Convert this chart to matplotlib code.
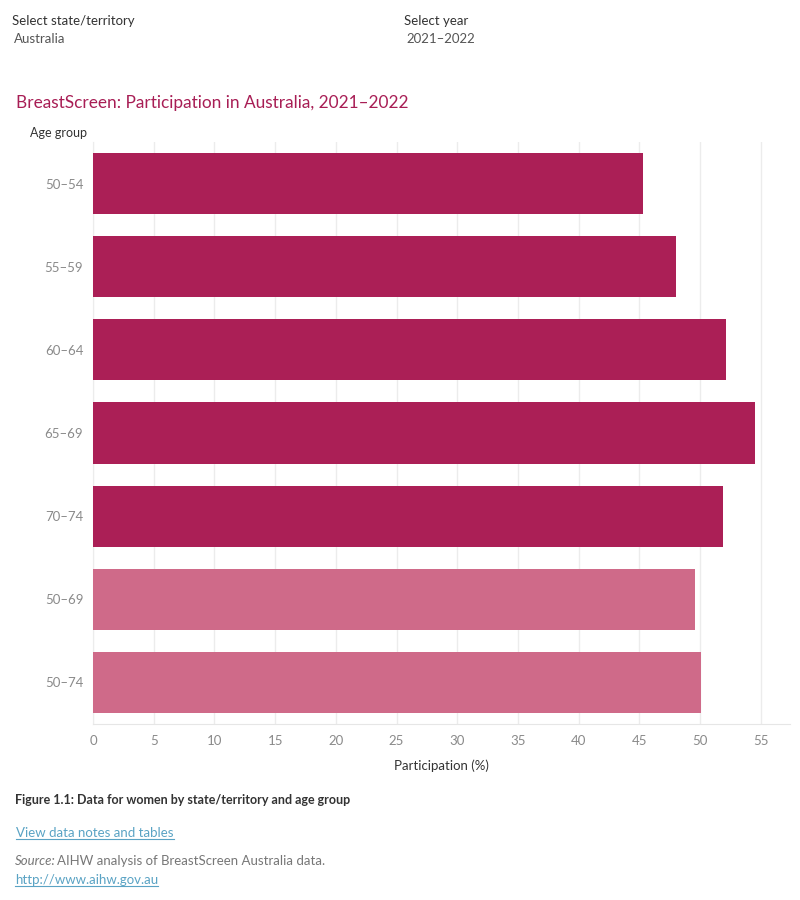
import matplotlib
matplotlib.use("Agg")
import matplotlib.pyplot as plt
from matplotlib.lines import Line2D

plt.rcParams['font.family'] = ['Lato', 'DejaVu Sans']

age_groups = ["50–54", "55–59", "60–64", "65–69", "70–74", "50–69", "50–74"]
participation = [45.3, 48.0, 52.1, 54.5, 51.9, 49.6, 50.05]
is_aggregate = [False, False, False, False, False, True, True]
x_ticks = [0, 5, 10, 15, 20, 25, 30, 35, 40, 45, 50, 55]

DARK = "#AB1F56"
LIGHT = "#CF6A89"

W, H = 800, 900
fig = plt.figure(figsize=(8, 9), dpi=100)
fig.patch.set_facecolor("white")

def fx(px):
    return px / W

def fy(py):
    return 1 - py / H

ax = fig.add_axes([fx(93), fy(724), fx(790) - fx(93), fy(142) - fy(724)])
colors = [LIGHT if a else DARK for a in is_aggregate]
ypos = list(range(len(age_groups)))
ax.barh(ypos, participation, height=0.735, color=colors, zorder=3)
ax.set_ylim(len(age_groups) - 0.5, -0.5)
ax.set_xlim(0, 57.4)
ax.set_xticks(x_ticks)
ax.set_xticklabels([str(t) for t in x_ticks])
ax.set_yticks(ypos)
ax.set_yticklabels(age_groups)
ax.tick_params(axis='both', length=0, labelsize=9.5, labelcolor="#8a8a8a")
ax.tick_params(axis='x', pad=8)
ax.tick_params(axis='y', pad=7)
ax.grid(axis='x', color="#ececec", linewidth=1, zorder=0)
for s in ["top", "right"]:
    ax.spines[s].set_visible(False)
ax.spines["left"].set_color("#ececec")
ax.spines["bottom"].set_color("#e6e6e6")
ax.set_xlabel("Participation (%)", fontsize=9.5, color="#333333", labelpad=9)

# Header texts
fig.text(fx(12), fy(21), "Select state/territory", fontsize=9.5, color="#333333", va="center", ha="left")
fig.text(fx(14), fy(39), "Australia", fontsize=9.5, color="#555555", va="center", ha="left")
fig.text(fx(404), fy(21), "Select year", fontsize=9.5, color="#333333", va="center", ha="left")
fig.text(fx(406), fy(39), "2021–2022", fontsize=9.5, color="#555555", va="center", ha="left")
fig.text(fx(16), fy(103), "BreastScreen: Participation in Australia, 2021–2022", fontsize=12.4,
         color="#A81E55", va="center", ha="left")
fig.text(fx(30), fy(133), "Age group", fontsize=9, color="#333333", va="center", ha="left")

# Footer texts
fig.text(fx(15), fy(800), "Figure 1.1: Data for women by state/territory and age group", fontsize=9,
         color="#333333", fontweight="bold", va="center", ha="left")
link1 = fig.text(fx(16), fy(833), "View data notes and tables", fontsize=9.5, color="#5AA3C4",
                 va="center", ha="left")
src1 = fig.text(fx(15), fy(861), "Source:", fontsize=9.5, color="#777777", style="italic",
                va="center", ha="left")
link2 = fig.text(fx(15), fy(880), "http://www.aihw.gov.au", fontsize=9.5, color="#5AA3C4",
                 va="center", ha="left")

fig.canvas.draw()
r = fig.canvas.get_renderer()
bb = src1.get_window_extent(r)
fig.text(bb.x1 / W + fx(1), fy(861), "AIHW analysis of BreastScreen Australia data.", fontsize=9.5,
         color="#777777", va="center", ha="left")

for t in (link1, link2):
    b = t.get_window_extent(r)
    y = b.y0 / H - 0.0005
    fig.add_artist(Line2D([b.x0 / W, b.x1 / W], [y, y], color="#5AA3C4", linewidth=0.8,
                          transform=fig.transFigure))

fig.savefig("out.png", dpi=100, facecolor="white")
